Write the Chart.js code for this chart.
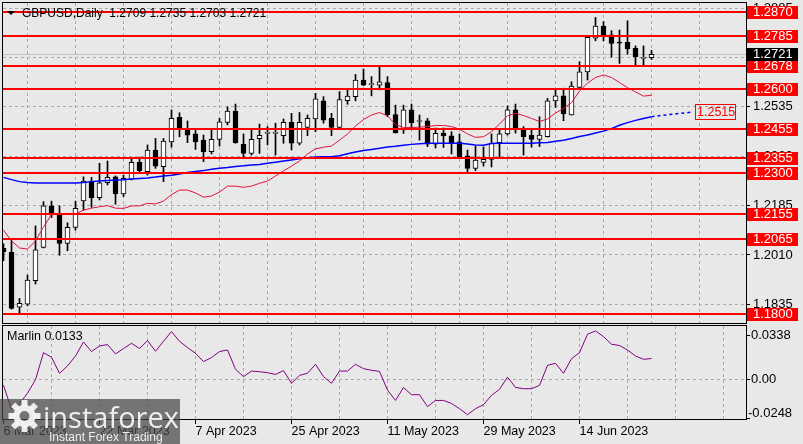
<!DOCTYPE html>
<html>
<head>
<meta charset="utf-8">
<script src="https://cdn.jsdelivr.net/npm/chart.js@4.4.0/dist/chart.umd.min.js"></script>
<style>
  html, body { margin: 0; padding: 0; background: #e8e8e8; }
  #wrap { position: relative; width: 803px; height: 444px; overflow: hidden; }
  canvas { position: absolute; left: 0; }
  #mainChart { top: 0; }
  #indChart { top: 325px; }
</style>
</head>
<body>
<div id="wrap">
  <canvas id="mainChart" width="803" height="325"></canvas>
  <canvas id="indChart" width="803" height="119"></canvas>
</div>
<script>
// GBPUSD daily bars, 6 Mar 2023 .. 27 Jun 2023
var opens = [1.2034,1.2019,1.1825,1.1836,1.1919,1.2037,1.2184,1.2152,1.2051,1.2108,
  1.2202,1.2272,1.2213,1.2266,1.2287,1.2226,1.2279,1.2338,1.2305,1.2382,
  1.2323,1.2411,1.2498,1.2455,1.2439,1.2417,1.2376,1.2420,1.2480,1.2520,
  1.2402,1.2370,1.2422,1.2441,1.2441,1.2433,1.2480,1.2406,1.2462,1.2492,
  1.2556,1.2494,1.2462,1.2557,1.2571,1.2630,1.2614,1.2612,1.2621,1.2508,
  1.2453,1.2524,1.2483,1.2485,1.2403,1.2442,1.2432,1.2411,1.2361,1.2317,
  1.2338,1.2349,1.2408,1.2439,1.2524,1.2453,1.2435,1.2420,1.2429,1.2556,
  1.2574,1.2506,1.2604,1.2659,1.2778,1.2821,1.2790,1.2762,1.2764,1.2742,
  1.2707,1.2709];
var highs = [1.2050,1.2063,1.1856,1.1939,1.2113,1.2199,1.2201,1.2184,1.2124,1.2201,
  1.2287,1.2285,1.2335,1.2343,1.2290,1.2293,1.2353,1.2357,1.2400,1.2423,
  1.2423,1.2524,1.2514,1.2485,1.2453,1.2435,1.2453,1.2494,1.2535,1.2545,
  1.2439,1.2459,1.2474,1.2465,1.2477,1.2492,1.2512,1.2515,1.2506,1.2583,
  1.2571,1.2512,1.2589,1.2598,1.2650,1.2669,1.2642,1.2677,1.2642,1.2541,
  1.2541,1.2545,1.2506,1.2494,1.2460,1.2460,1.2447,1.2439,1.2382,1.2395,
  1.2393,1.2439,1.2453,1.2538,1.2545,1.2465,1.2453,1.2500,1.2565,1.2595,
  1.2601,1.2624,1.2695,1.2782,1.2852,1.2837,1.2805,1.2807,1.2840,1.2751,
  1.2751,1.2735];
var lows = [1.1990,1.1818,1.1803,1.1830,1.1907,1.2035,1.2143,1.2009,1.2025,1.2098,
  1.2169,1.2179,1.2205,1.2258,1.2190,1.2217,1.2276,1.2299,1.2293,1.2317,
  1.2270,1.2392,1.2429,1.2408,1.2384,1.2341,1.2368,1.2396,1.2471,1.2406,
  1.2353,1.2364,1.2370,1.2400,1.2364,1.2406,1.2382,1.2400,1.2433,1.2447,
  1.2477,1.2433,1.2460,1.2544,1.2556,1.2610,1.2574,1.2595,1.2500,1.2442,
  1.2441,1.2460,1.2417,1.2394,1.2389,1.2391,1.2368,1.2356,1.2305,1.2309,
  1.2325,1.2322,1.2354,1.2435,1.2442,1.2364,1.2392,1.2394,1.2428,1.2533,
  1.2486,1.2506,1.2602,1.2630,1.2769,1.2769,1.2711,1.2689,1.2722,1.2683,
  1.2683,1.2703];
var closes = [1.2022,1.1821,1.1839,1.1921,1.2028,1.2184,1.2152,1.2051,1.2108,1.2175,
  1.2272,1.2213,1.2266,1.2285,1.2226,1.2282,1.2338,1.2309,1.2382,1.2325,
  1.2414,1.2494,1.2455,1.2435,1.2411,1.2376,1.2420,1.2482,1.2520,1.2408,
  1.2370,1.2420,1.2434,1.2442,1.2443,1.2480,1.2406,1.2480,1.2494,1.2563,
  1.2488,1.2462,1.2561,1.2573,1.2630,1.2612,1.2615,1.2624,1.2506,1.2443,
  1.2524,1.2479,1.2484,1.2403,1.2441,1.2432,1.2407,1.2357,1.2317,1.2346,
  1.2349,1.2406,1.2439,1.2524,1.2453,1.2429,1.2420,1.2435,1.2556,1.2574,
  1.2510,1.2609,1.2659,1.2781,1.2821,1.2786,1.2760,1.2761,1.2740,1.2713,
  1.2707,1.2721];

// moving averages
var maFast = [1.2098,1.2060,1.2035,1.2031,1.2060,1.2109,1.2153,1.2155,1.2155,1.2155,
  1.2169,1.2176,1.2181,1.2185,1.2176,1.2175,1.2184,1.2184,1.2193,1.2191,
  1.2201,1.2224,1.2240,1.2240,1.2230,1.2215,1.2219,1.2233,1.2254,1.2254,
  1.2250,1.2254,1.2264,1.2272,1.2290,1.2308,1.2325,1.2343,1.2368,1.2386,
  1.2392,1.2396,1.2417,1.2439,1.2467,1.2490,1.2506,1.2515,1.2503,1.2472,
  1.2462,1.2462,1.2463,1.2465,1.2469,1.2469,1.2465,1.2456,1.2439,1.2427,
  1.2429,1.2447,1.2474,1.2503,1.2512,1.2504,1.2494,1.2483,1.2492,1.2513,
  1.2529,1.2550,1.2591,1.2619,1.2639,1.2648,1.2639,1.2621,1.2603,1.2588,
  1.2573,1.2576];
var maSlow = [1.2285,1.2277,1.2270,1.2267,1.2265,1.2265,1.2265,1.2265,1.2265,1.2265,
  1.2267,1.2270,1.2272,1.2274,1.2276,1.2277,1.2279,1.2281,1.2283,1.2286,
  1.2290,1.2293,1.2297,1.2302,1.2306,1.2309,1.2314,1.2317,1.2320,1.2324,
  1.2326,1.2329,1.2331,1.2335,1.2339,1.2343,1.2347,1.2351,1.2355,1.2357,
  1.2358,1.2358,1.2362,1.2369,1.2375,1.2380,1.2384,1.2388,1.2393,1.2395,
  1.2399,1.2402,1.2404,1.2406,1.2406,1.2406,1.2406,1.2406,1.2403,1.2400,
  1.2399,1.2405,1.2406,1.2406,1.2406,1.2406,1.2406,1.2408,1.2409,1.2413,
  1.2417,1.2423,1.2430,1.2435,1.2442,1.2449,1.2458,1.2470,1.2479,1.2487,
  1.2494,1.2500];
var projIdx = [81, 83, 86];
var projVals = [1.2500, 1.2507, 1.2516];
var projLabel = 1.2515;

// Marlin oscillator
var marlin = [-0.0036,-0.0187,-0.0150,-0.0086,0.0000,0.0170,0.0141,0.0040,0.0086,0.0149,
  0.0237,0.0177,0.0212,0.0221,0.0162,0.0196,0.0229,0.0196,0.0246,0.0179,
  0.0242,0.0303,0.0242,0.0202,0.0166,0.0114,0.0139,0.0177,0.0187,0.0065,
  0.0019,0.0054,0.0050,0.0044,0.0033,0.0057,-0.0023,0.0027,0.0040,0.0097,
  0.0019,-0.0023,0.0054,0.0054,0.0097,0.0069,0.0059,0.0052,-0.0066,-0.0131,
  -0.0050,-0.0095,-0.0095,-0.0170,-0.0131,-0.0131,-0.0150,-0.0183,-0.0221,-0.0183,
  -0.0158,-0.0099,-0.0061,0.0016,-0.0049,-0.0057,-0.0057,-0.0036,0.0090,0.0103,
  0.0040,0.0132,0.0170,0.0286,0.0307,0.0271,0.0223,0.0215,0.0187,0.0149,
  0.0128,0.0133];
var marlinMax = 0.0338;
var marlinMin = -0.0248;

// levels and axis text
var levels = [1.2870, 1.2785, 1.2678, 1.2600, 1.2455, 1.2355, 1.2300, 1.2155, 1.2065, 1.1800];
var priceTicks = [1.1835, 1.2010, 1.2185, 1.2360, 1.2535, 1.2710, 1.2885];
var dateLabels = ['6 Mar 2023', '22 Mar 2023', '7 Apr 2023', '25 Apr 2023', '11 May 2023', '29 May 2023', '14 Jun 2023'];
var lastPrice = 1.2721;
var headerText = 'GBPUSD,Daily  1.2709 1.2735 1.2703 1.2721';

var FONT = '"Liberation Sans", Arial, sans-serif';
Chart.defaults.font.family = FONT;
Chart.defaults.color = '#000';

var xMin = -0.0625, xMax = 92.8125;
var gridIdx = [];
for (var g = 0; g <= 90; g += 6) gridIdx.push(g);
var gridColor = '#aaaaaa';

function pts(arr) { return arr.map(function (v, i) { return {x: i, y: v}; }); }
// keep the plot area exactly where the layout padding puts it
function noPad(s) { s.paddingTop = 0; s.paddingBottom = 0; s.paddingLeft = 0; s.paddingRight = 0; }

var bodies = opens.map(function (o, i) { return {x: i, y: [o, closes[i]]}; });
var wicks = lows.map(function (l, i) { return {x: i, y: [l, highs[i]]}; });
var bodyColors = opens.map(function (o, i) { return closes[i] >= o ? '#ffffff' : '#000000'; });

function frame(chart) {
  var a = chart.chartArea, ctx = chart.ctx;
  ctx.save();
  ctx.strokeStyle = '#000';
  ctx.lineWidth = 1;
  ctx.strokeRect(a.left - 0.5, a.top - 0.5, a.right - a.left + 1, a.bottom - a.top + 1);
  ctx.restore();
}

// price panel decorations: bid line, levels, labels
var mainDeco = {
  id: 'mainDeco',
  beforeDatasetsDraw: function (chart) {
    var ctx = chart.ctx, a = chart.chartArea, y = chart.scales.y;
    var py = Math.round(y.getPixelForValue(lastPrice)) + 0.5;
    ctx.save();
    ctx.strokeStyle = '#c2c2c2';
    ctx.lineWidth = 1;
    ctx.beginPath(); ctx.moveTo(a.left, py); ctx.lineTo(a.right, py); ctx.stroke();
    ctx.restore();
  },
  afterDatasetsDraw: function (chart) {
    var ctx = chart.ctx, a = chart.chartArea, y = chart.scales.y, x = chart.scales.x;
    ctx.save();
    ctx.strokeStyle = '#ff0000';
    ctx.lineWidth = 2;
    levels.forEach(function (v) {
      var py = Math.round(y.getPixelForValue(v));
      ctx.beginPath(); ctx.moveTo(a.left, py); ctx.lineTo(a.right, py); ctx.stroke();
    });
    // projected MA label
    var ly = Math.round(y.getPixelForValue(projLabel));
    var lx = Math.round(x.getPixelForValue(projIdx[projIdx.length - 1])) + 3;
    ctx.lineWidth = 1;
    ctx.strokeRect(lx + 0.5, ly - 7.5, 40, 15);
    ctx.fillStyle = '#ff0000';
    ctx.font = '12.5px ' + FONT;
    ctx.textBaseline = 'middle';
    ctx.fillText(projLabel.toFixed(4), lx + 2, ly + 0.5);
    ctx.restore();
  },
  afterDraw: function (chart) {
    var ctx = chart.ctx, a = chart.chartArea, y = chart.scales.y;
    frame(chart);
    ctx.save();
    // header
    ctx.fillStyle = '#000';
    ctx.beginPath(); ctx.moveTo(7, 11); ctx.lineTo(15, 11); ctx.lineTo(11, 15); ctx.closePath(); ctx.fill();
    ctx.font = '12px ' + FONT;
    ctx.textBaseline = 'middle';
    ctx.fillText(headerText, 22, 13.5);
    // level boxes on the price axis
    ctx.font = '13px ' + FONT;
    levels.forEach(function (v) {
      var py = Math.round(y.getPixelForValue(v));
      ctx.fillStyle = '#ff0000';
      ctx.fillRect(a.right + 1, py - 6, 51, 13);
      ctx.fillStyle = '#ffffff';
      ctx.fillText(v.toFixed(4), a.right + 7, py + 0.5);
    });
    var bp = Math.round(y.getPixelForValue(lastPrice));
    ctx.fillStyle = '#000';
    ctx.fillRect(a.right + 1, bp - 6, 51, 13);
    ctx.fillStyle = '#ffffff';
    ctx.fillText(lastPrice.toFixed(4), a.right + 7, bp + 0.5);
    ctx.restore();
  }
};

var mainChart = new Chart(document.getElementById('mainChart'), {
  type: 'bar',
  data: {
    datasets: [
      {type: 'line', data: pts(maFast), borderColor: '#dc143c', borderWidth: 1, pointRadius: 0, tension: 0, order: 0},
      {type: 'line', data: pts(maSlow), borderColor: '#0000ff', borderWidth: 1.5, pointRadius: 0, tension: 0, order: 1},
      {type: 'line', data: projIdx.map(function (i, k) { return {x: i, y: projVals[k]}; }),
        borderColor: '#0000ff', borderWidth: 1.5, borderDash: [3, 3], pointRadius: 0, tension: 0, order: 2},
      {data: bodies, backgroundColor: bodyColors, borderColor: '#000', borderWidth: 1, borderSkipped: false,
        barThickness: 5, minBarLength: 1, grouped: false, order: 3},
      {data: wicks, backgroundColor: '#000', borderWidth: 0, barThickness: 1, grouped: false, order: 4}
    ]
  },
  options: {
    responsive: false,
    animation: false,
    devicePixelRatio: 1,
    layout: {padding: {left: 3, top: 3, right: 0, bottom: 2}, autoPadding: false},
    plugins: {legend: {display: false}, tooltip: {enabled: false}},
    scales: {
      x: {
        type: 'linear', min: xMin, max: xMax, offset: false,
        afterBuildTicks: function (s) { s.ticks = gridIdx.map(function (v) { return {value: v}; }); },
        afterFit: function (s) { s.height = 0; noPad(s); },
        ticks: {display: false},
        grid: {color: gridColor, drawTicks: false},
        border: {display: false, dash: [3, 3]}
      },
      y: {
        position: 'right', min: 1.1769, max: 1.2903,
        afterBuildTicks: function (s) { s.ticks = priceTicks.map(function (v) { return {value: v}; }); },
        afterFit: function (s) { s.width = 57; noPad(s); },
        ticks: {font: {size: 13}, color: '#000', padding: 3, callback: function (v) { return v.toFixed(4); }},
        grid: {color: gridColor, tickColor: '#000', tickLength: 4},
        border: {display: false, dash: [3, 3]}
      }
    }
  },
  plugins: [mainDeco]
});

// indicator panel decorations
var indDeco = {
  id: 'indDeco',
  afterDraw: function (chart) {
    var ctx = chart.ctx, a = chart.chartArea, y = chart.scales.y;
    frame(chart);
    ctx.save();
    ctx.fillStyle = '#000';
    ctx.font = '12.5px ' + FONT;
    ctx.textBaseline = 'middle';
    ctx.fillText('Marlin ' + marlin[marlin.length - 1].toFixed(4), 7, 12);
    ctx.font = '13px ' + FONT;
    var ty = y.getPixelForValue(marlinMax) + 9;
    var by = y.getPixelForValue(marlinMin) - 6;
    ctx.fillText(marlinMax.toFixed(4), a.right + 5, ty);
    ctx.fillText(marlinMin.toFixed(4), a.right + 2, by);
    ctx.fillRect(a.right, Math.round(ty), 4, 1);
    ctx.fillRect(a.right, Math.round(a.bottom) - 1, 4, 1);

    // watermark
    ctx.fillStyle = 'rgba(70,70,70,0.72)';
    ctx.fillRect(0, 74, 180, 45);
    ctx.fillStyle = 'rgba(255,255,255,0.88)';
    // gear
    var cx = 24.5, cy = 91;
    ctx.beginPath();
    ctx.arc(cx, cy, 11, 0, Math.PI * 2);
    ctx.arc(cx, cy, 5, 0, Math.PI * 2, true);
    ctx.fill('evenodd');
    for (var t = 0; t < 8; t++) {
      ctx.save();
      ctx.translate(cx, cy);
      ctx.rotate(t * Math.PI / 4);
      ctx.fillRect(-3, -16, 6, 6);
      ctx.restore();
    }
    ctx.font = '29px "Open Sans", ' + FONT;
    ctx.textBaseline = 'alphabetic';
    ctx.fillText('instaforex', 43, 103);
    ctx.font = '12px ' + FONT;
    ctx.fillText('Instant Forex Trading', 49, 116);
    ctx.restore();
  }
};

var indChart = new Chart(document.getElementById('indChart'), {
  type: 'line',
  data: {
    datasets: [
      {data: pts(marlin), borderColor: '#800080', borderWidth: 1, pointRadius: 0, tension: 0}
    ]
  },
  options: {
    responsive: false,
    animation: false,
    devicePixelRatio: 1,
    layout: {padding: {left: 3, top: 1, right: 0, bottom: 0}, autoPadding: false},
    plugins: {legend: {display: false}, tooltip: {enabled: false}},
    scales: {
      x: {
        type: 'linear', min: xMin, max: xMax, offset: false,
        afterBuildTicks: function (s) { s.ticks = gridIdx.map(function (v) { return {value: v}; }); },
        afterFit: function (s) { s.height = 25; noPad(s); },
        ticks: {
          font: {size: 12.5}, color: '#000', align: 'start', maxRotation: 0, minRotation: 0, autoSkip: false, padding: 0,
          callback: function (v) {
            return (v % 12 === 0 && v / 12 < dateLabels.length) ? dateLabels[v / 12] : '';
          }
        },
        grid: {
          color: function (c) { return c.tick && c.tick.value === 0 ? 'rgba(0,0,0,0)' : gridColor; },
          tickColor: function (c) { return c.tick && c.tick.value % 12 === 0 && c.tick.value / 12 < dateLabels.length ? '#000' : 'rgba(0,0,0,0)'; },
          tickLength: 5
        },
        border: {display: false, dash: [3, 3]}
      },
      y: {
        position: 'right', min: marlinMin, max: marlinMax,
        afterBuildTicks: function (s) { s.ticks = [{value: 0}]; },
        afterFit: function (s) { s.width = 57; noPad(s); },
        ticks: {font: {size: 13}, color: '#000', padding: 1, callback: function () { return '0.00'; }},
        grid: {color: gridColor, tickColor: '#000', tickLength: 4},
        border: {display: false, dash: [3, 3]}
      }
    }
  },
  plugins: [indDeco]
});
</script>
</body>
</html>
